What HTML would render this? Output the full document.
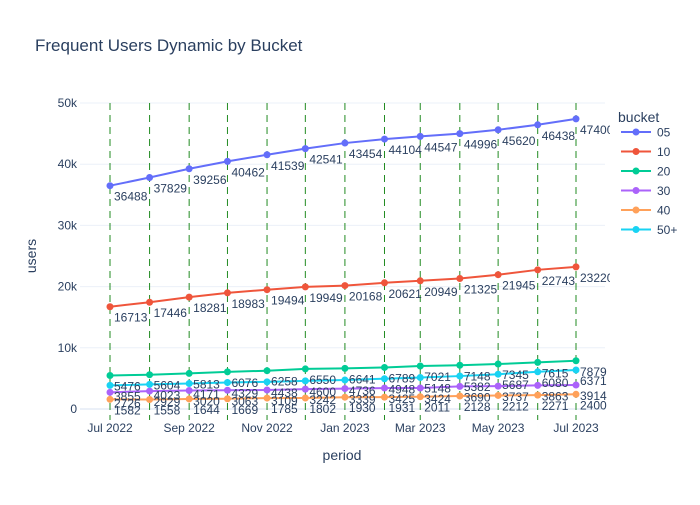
<!DOCTYPE html>
<html><head><meta charset="utf-8"><style>
body{margin:0;background:#fff;font-family:"Liberation Sans",sans-serif}
</style></head><body>
<svg id="c" width="700" height="500" xmlns="http://www.w3.org/2000/svg" style="font-family:'Liberation Sans',sans-serif">
<text x="35" y="51" font-size="17" fill="#2a3f5f">Frequent Users Dynamic by Bucket</text>
<text x="342" y="460" font-size="14" fill="#2a3f5f" text-anchor="middle">period</text>
<text x="36" y="256" font-size="14" fill="#2a3f5f" text-anchor="middle" transform="rotate(-90 36 256)">users</text>
<g id="grid"></g><g id="vlines"></g><g id="series"></g><g id="labels"></g><g id="legend"></g>
</svg>
<script>
const months=["2022-07","2022-08","2022-09","2022-10","2022-11","2022-12","2023-01","2023-02","2023-03","2023-04","2023-05","2023-06","2023-07"];
const buckets=["05","10","20","30","40","50+"];
const colors=["#636efa","#EF553B","#00cc96","#ab63fa","#FFA15A","#19d3f3"];
const s05=[36488,37829,39256,40462,41539,42541,43454,44104,44547,44996,45620,46438,47400];
const s10=[16713,17446,18281,18983,19494,19949,20168,20621,20949,21325,21945,22743,23220];
const s20=[5476,5604,5813,6076,6258,6550,6641,6789,7021,7148,7345,7615,7879];
const s30=[2726,2929,3020,3063,3109,3242,3339,3425,3424,3690,3737,3863,3914];
const s40=[1582,1558,1644,1669,1785,1802,1930,1931,2011,2128,2212,2271,2400];
const s50=[3855,4023,4171,4329,4438,4600,4736,4948,5148,5382,5687,6080,6371];
const series=[s05,s10,s20,s30,s40,s50];
const yTicks=[0,10000,20000,30000,40000,50000];
const yTickLabels=["0","10k","20k","30k","40k","50k"];
const xTickMonths=["2022-07","2022-09","2022-11","2023-01","2023-03","2023-05","2023-07"];
const xTickLabels=["Jul 2022","Sep 2022","Nov 2022","Jan 2023","Mar 2023","May 2023","Jul 2023"];
const NS="http://www.w3.org/2000/svg";
const t0=Date.UTC(2022,6,1),t1=Date.UTC(2023,6,1);
function dt(m){const[a,b]=m.split("-").map(Number);return Date.UTC(a,b-1,1);}
function X(m){return 110+(dt(m)-t0)/(t1-t0)*466;}
function Y(v){return 409-v/50000*306;}
function el(tag,attrs,parent,txt){const e=document.createElementNS(NS,tag);for(const k in attrs)e.setAttribute(k,attrs[k]);if(txt!==undefined)e.textContent=txt;parent.appendChild(e);return e;}
const grid=document.getElementById("grid");
yTicks.forEach((v,i)=>{
 const l=el("line",{x1:80,x2:605,y1:Y(v),y2:Y(v),stroke:"#ebf0f8","stroke-width":v===0?2:1},grid);
 
 
 const t=el("text",{x:77,y:Y(v)+4,"font-size":12,fill:"#2a3f5f","text-anchor":"end"},grid,yTickLabels[i]);
 
 
});
xTickMonths.forEach((m,i)=>{
 const t=el("text",{x:X(m),y:432,"font-size":12,fill:"#2a3f5f","text-anchor":"middle"},grid,xTickLabels[i]);
 
 
});
const vl=document.getElementById("vlines");
months.forEach(m=>{
 const l=el("line",{x1:X(m),x2:X(m),y1:103,y2:420,stroke:"#228b22","stroke-width":1,"stroke-dasharray":"7,5"},vl);
 
 
});
const sg=document.getElementById("series"),lg=document.getElementById("labels");
series.forEach((s,k)=>{
 const pts=s.map((v,i)=>X(months[i])+","+Y(v)).join(" ");
 const p=el("polyline",{points:pts,fill:"none",stroke:colors[k],"stroke-width":2},sg);
 
 
 s.forEach((v,i)=>{
  const c=el("circle",{cx:X(months[i]),cy:Y(v),r:3.5,fill:colors[k]},sg);
  
  
  const t=el("text",{x:X(months[i])+4,y:Y(v)+15,"font-size":12,fill:"#2a3f5f"},lg,String(v));
  
  
 });
});
const leg=document.getElementById("legend");
const bg=el("rect",{x:610,y:100,width:90,height:330,fill:"#fff"},leg);


const lt=el("text",{x:618,y:122,"font-size":14,fill:"#2a3f5f"},leg,"bucket");


buckets.forEach((b,k)=>{
 const y=132+k*19.5;
 const g=el("g",{},leg);
 
 
 el("line",{x1:621,x2:651,y1:y,y2:y,stroke:colors[k],"stroke-width":2},g);
 el("circle",{cx:636,cy:y,r:3.5,fill:colors[k]},g);
 el("text",{x:657,y:y+4.5,"font-size":12,fill:"#2a3f5f"},g,b);
});
</script>
</body></html>
